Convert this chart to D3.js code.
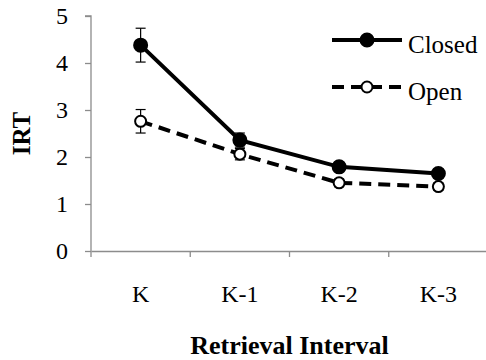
<!DOCTYPE html>
<html>
<head>
<meta charset="utf-8">
<script src="https://cdn.jsdelivr.net/npm/d3@7"></script>
<style>
  body { margin: 0; background: #fff; }
</style>
</head>
<body>
<div id="chart"></div>
<script>
const categories = ["K", "K-1", "K-2", "K-3"];
const closedValues = [4.38, 2.36, 1.79, 1.65];
const closedErrors = [0.36, 0.15, 0.1, 0.09];
const openValues = [2.76, 2.06, 1.45, 1.37];
const openErrors = [0.25, 0.12, 0.08, 0.08];
const yTicks = [0, 1, 2, 3, 4, 5];

const width = 486, height = 360;
const margin = { top: 16, right: -2, bottom: 109, left: 91 };
const serif = '"Liberation Serif"';

const svg = d3.select("#chart").append("svg")
  .attr("width", width)
  .attr("height", height);

const x = d3.scaleBand()
  .domain(categories)
  .range([margin.left, width - margin.right]);

const y = d3.scaleLinear()
  .domain([0, 5])
  .range([height - margin.bottom, margin.top]);

const axisColor = "#8c8c8c";

// y axis
const yAxis = svg.append("g")
  .attr("transform", `translate(${margin.left},0)`)
  .call(d3.axisLeft(y).tickValues(yTicks).tickFormat(d3.format("d")).tickSize(6).tickPadding(17));
yAxis.attr("font-family", null).attr("font-size", null);
yAxis.select(".domain").attr("stroke", axisColor).attr("stroke-width", 1.3).attr("d", `M-6,${y(5)}H0V${y(0)}`);
yAxis.selectAll(".tick line").attr("stroke", axisColor).attr("stroke-width", 1.3);
yAxis.selectAll(".tick text")
  .style("font-family", serif).style("font-size", "24px")
  .attr("fill", "#000").attr("dy", "0.33em");

// x axis
const xAxis = svg.append("g")
  .attr("transform", `translate(0,${y(0)})`)
  .call(d3.axisBottom(x).tickSize(0).tickPadding(34));
xAxis.attr("font-family", null).attr("font-size", null);
xAxis.select(".domain").attr("stroke", axisColor).attr("stroke-width", 1.3);
xAxis.selectAll(".tick text")
  .style("font-family", serif).style("font-size", "24px")
  .attr("fill", "#000");

// x ticks at band edges
const edges = categories.map(c => x(c)).concat([x(categories[categories.length - 1]) + x.bandwidth()]);
svg.append("g").selectAll("line")
  .data(edges)
  .enter().append("line")
  .attr("x1", d => d).attr("x2", d => d)
  .attr("y1", y(0)).attr("y2", y(0) + 6)
  .attr("stroke", axisColor).attr("stroke-width", 1.3);

// axis titles
svg.append("text")
  .attr("x", (margin.left + width - margin.right) / 2)
  .attr("y", 354)
  .attr("text-anchor", "middle")
  .style("font-family", serif).style("font-size", "26px").style("font-weight", "bold")
  .text("Retrieval Interval");

svg.append("text")
  .attr("transform", `translate(30,${(y(5) + y(0)) / 2}) rotate(-90)`)
  .attr("text-anchor", "middle")
  .style("font-family", serif).style("font-size", "25px").style("font-weight", "bold")
  .text("IRT");

const cx = c => x(c) + x.bandwidth() / 2;

const series = [
  { name: "Closed", values: closedValues, errors: closedErrors, dash: null, fill: "#000", r: 6.5 },
  { name: "Open", values: openValues, errors: openErrors, dash: "12,7", fill: "#fff", r: 5.5 }
];

const line = d3.line().x(d => cx(d.c)).y(d => y(d.v));

series.forEach(s => {
  const pts = categories.map((c, i) => ({ c: c, v: s.values[i], e: s.errors[i] }));

  // error bars
  const eb = svg.append("g");
  pts.forEach(p => {
    eb.append("line")
      .attr("x1", cx(p.c)).attr("x2", cx(p.c))
      .attr("y1", y(p.v + p.e)).attr("y2", y(p.v - p.e))
      .attr("stroke", "#000").attr("stroke-width", 1.2);
    [p.v + p.e, p.v - p.e].forEach(v => {
      eb.append("line")
        .attr("x1", cx(p.c) - 5).attr("x2", cx(p.c) + 5)
        .attr("y1", y(v)).attr("y2", y(v))
        .attr("stroke", "#000").attr("stroke-width", 1.2);
    });
  });

  svg.append("path")
    .datum(pts)
    .attr("d", line)
    .attr("fill", "none")
    .attr("stroke", "#000")
    .attr("stroke-width", 4)
    .attr("stroke-dasharray", s.dash);

  svg.append("g").selectAll("circle")
    .data(pts)
    .enter().append("circle")
    .attr("cx", d => cx(d.c))
    .attr("cy", d => y(d.v))
    .attr("r", s.r)
    .attr("fill", s.fill)
    .attr("stroke", "#000")
    .attr("stroke-width", 2);
});

// legend
const legend = svg.append("g");
series.forEach((s, i) => {
  const ly = 40 + i * 47;
  legend.append("line")
    .attr("x1", 332).attr("x2", 402)
    .attr("y1", ly).attr("y2", ly)
    .attr("stroke", "#000").attr("stroke-width", 4)
    .attr("stroke-dasharray", s.dash);
  legend.append("circle")
    .attr("cx", 367).attr("cy", ly).attr("r", s.r)
    .attr("fill", s.fill).attr("stroke", "#000").attr("stroke-width", 2);
  legend.append("text")
    .attr("x", 408).attr("y", ly + 13)
    .style("font-family", serif).style("font-size", "25px")
    .text(s.name);
});
</script>
</body>
</html>
